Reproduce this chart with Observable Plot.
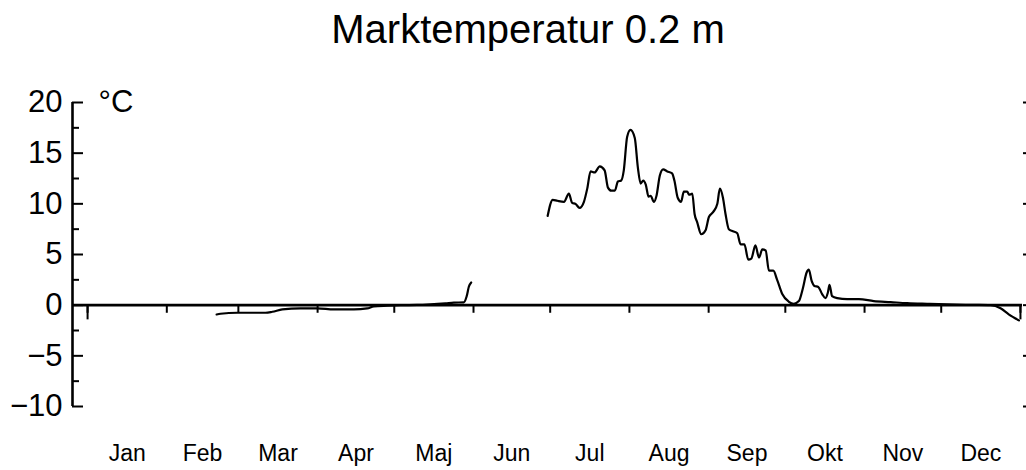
<!DOCTYPE html>
<html><head><meta charset="utf-8">
<script src="https://cdn.jsdelivr.net/npm/d3@7"></script>
<script src="https://cdn.jsdelivr.net/npm/@observablehq/plot@0.6"></script>
<style>
html,body{margin:0;padding:0;background:#fff;}
#wrap{position:relative;width:1026px;height:470px;overflow:hidden;font-family:"Liberation Sans",Arial,sans-serif;color:#000;}
#title{position:absolute;left:0;top:9px;width:1056px;text-align:center;font-size:40px;line-height:40px;}
#chart{position:absolute;left:0;top:70px;}
</style></head><body>
<div id="wrap"><div id="title">Marktemperatur 0.2 m</div><div id="chart"></div></div>
<script>
const monthNames = ["Jan","Feb","Mar","Apr","Maj","Jun","Jul","Aug","Sep","Okt","Nov","Dec"];
const monthStarts = [0,31,59,90,120,151,181,212,243,273,304,334,365];
const yearStarts = [0,365];
const yMajor = [-10,-5,0,5,10,15,20];
const yMinor = [-7.5,-2.5,2.5,7.5,12.5,17.5];
const xDomain = [-5.9, 365.8];
const yDomain = [-10, 20];
const unitLabel = "°C";

// day of year (0 = 1 Jan), NaN marks the data gap
const dayOfYear = [
  50.5,52,58.6,69.6,72.3,76.2,83.3,89.9,96.4,104.2,109.4,112,117.3,122.5,129,134.2,140,143.3,147.2,148.3,149.2,150.1,
  165,
  180,182,183.8,186.4,188.3,189.6,190.9,192.5,194.2,195.5,196.8,198.4,200.4,202.3,203.6,204.9,206.3,207.5,208.8,209.8,
  211.1,212.4,214.1,215.3,216.4,217.4,218.4,219.5,220.3,221.6,222.6,223.9,225.2,226.8,228.7,229.6,230.9,232.2,233.3,
  234.6,235.4,236.6,237.5,238.5,240.1,241.8,243.1,244.8,246.4,247.4,248.6,249.6,250.9,252.5,254.2,255.5,257,258.5,
  259.7,261.3,262.7,264,265.3,266.6,268.3,269.8,271.8,274.4,276.3,278.3,279.9,281.3,282.2,283.3,284.4,285.9,287.4,
  288.7,289.6,290.3,291.3,293.3,297.2,301.8,307.6,314.2,320.7,328.5,336.3,346.8,353.3,357.2,360.4,364.4
];
const temperature = [
  -0.92,-0.85,-0.75,-0.75,-0.65,-0.42,-0.32,-0.32,-0.42,-0.42,-0.32,-0.12,-0.05,0,0.02,0.08,0.18,0.25,0.28,0.85,1.84,2.24,
  NaN,
  8.8,10.4,10.3,10.2,11.0,10.1,10.0,9.6,10.2,11.5,13.2,13.1,13.7,13.3,11.6,11.3,11.3,12.2,12.3,13.3,
  16.6,17.3,16.5,13.6,12.0,12.3,11.9,10.7,10.8,10.2,10.8,12.8,13.4,13.2,13.0,12.3,10.6,10.2,11.2,
  11.2,10.9,11.0,9.0,8.2,7.0,7.4,8.7,9.2,10.0,11.5,10.6,9.0,7.5,7.3,7.1,6.0,6.0,4.5,
  4.6,5.9,4.7,5.5,5.4,3.4,3.4,2.5,1.1,0.33,0.13,0.4,1.7,3.2,3.5,2.4,1.9,1.8,1.1,
  0.7,1.2,2.0,0.9,0.7,0.6,0.6,0.4,0.3,0.2,0.13,0.07,0.03,0.0,-0.3,-0.9,-1.5
];

const rows = dayOfYear.map((d, i) => ({day: d, temp: temperature[i]}));
const monthMids = monthStarts.slice(0, 12).map((d, i) => (d + monthStarts[i + 1]) / 2);

const W = 1026, mL = 72, mR = 4;
const pxPerDay = (W - mL - mR) / (xDomain[1] - xDomain[0]);
const majorLen = 11 / pxPerDay, minorLen = 7 / pxPerDay;

const chart = Plot.plot({
  width: W,
  height: 400,
  marginTop: 32,
  marginBottom: 64,
  marginLeft: mL,
  marginRight: mR,
  style: {fontFamily: "Liberation Sans, Arial, sans-serif", color: "#000", background: "#fff"},
  x: {domain: xDomain, axis: null},
  y: {domain: yDomain, axis: null},
  marks: [
    Plot.ruleY([0], {strokeWidth: 2.6}),
    Plot.ruleX([xDomain[0]], {y1: yDomain[0], y2: yDomain[1], strokeWidth: 2.6}),
    Plot.ruleY(yMajor, {x1: xDomain[0], x2: xDomain[0] + majorLen, strokeWidth: 2}),
    Plot.ruleY(yMinor, {x1: xDomain[0], x2: xDomain[0] + minorLen, strokeWidth: 2}),
    Plot.axisY({ticks: yMajor, tickSize: 0, tickPadding: 10, fontSize: 31, label: null}),
    Plot.axisY({anchor: "right", ticks: yMajor, tickSize: 4, tickFormat: () => "", strokeWidth: 2, label: null}),
    Plot.ruleX(monthStarts, {y1: 0, y2: -0.8, strokeWidth: 2}),
    Plot.ruleX(yearStarts, {y1: 0, y2: -1.45, strokeWidth: 2}),
    Plot.axisX({ticks: monthMids, tickSize: 0, tickPadding: 38, fontSize: 23, label: null,
      tickFormat: d => monthNames[monthMids.indexOf(d)]}),
    Plot.text([unitLabel], {x: xDomain[0], y: yDomain[1], dx: 26, textAnchor: "start", fontSize: 31}),
    Plot.line(rows, {x: "day", y: "temp", strokeWidth: 2.2, curve: "monotone-x"})
  ]
});
document.getElementById("chart").appendChild(chart);
</script>
</body></html>
